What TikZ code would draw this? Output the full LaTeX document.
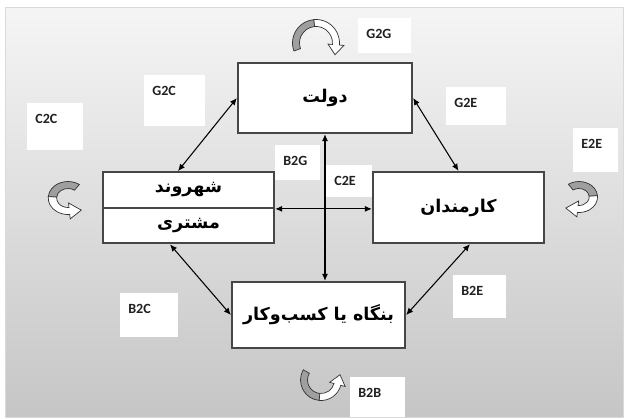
\documentclass[tikz,border=0pt]{standalone}
\usepackage{fontspec}
\usepackage{tikz}
\usetikzlibrary{arrows.meta,calc}
\newfontfamily\arabicfont[Script=Arabic]{DejaVu Sans}
\newfontfamily\tagfont{Carlito}
\TeXXeTstate=1

% curved self-arrow: start, middle, end angle, head direction, radius
\newcommand{\bandarrow}[5]{%
  \filldraw[fill=gray!75, draw=gray!40!black, line width=0.4pt]
    ({#1}:{#5+3.5}) arc[start angle=#1, end angle=#2, radius=#5+3.5]
    -- ({#2}:{#5-3.5}) arc[start angle=#2, end angle=#1, radius=#5-3.5] -- cycle;
  \filldraw[fill=white, draw=gray!40!black, line width=0.4pt]
    ({#2}:{#5+3.5}) arc[start angle=#2, end angle=#3, radius=#5+3.5]
    -- ({#3}:{#5+8}) -- ($({#3}:{#5})+({#4}:10)$) -- ({#3}:{#5-8}) -- ({#3}:{#5-3.5})
    arc[start angle=#3, end angle=#2, radius=#5-3.5] -- cycle;
}

\begin{document}
\begin{tikzpicture}[x=0.02cm, y=-0.02cm,
  entity/.style={draw=gray!55!black, line width=1.3pt, fill=white, inner sep=0pt,
    font=\arabicfont\bfseries\fontsize{10}{12}\selectfont},
  tag/.style={fill=white, anchor=north west, inner xsep=0.16cm, inner ysep=0pt,
    text height=0.4cm, align=left, text=gray!25!black,
    font=\tagfont\bfseries\fontsize{8}{9}\selectfont},
  link/.style={{Latex[length=4pt,width=3.5pt]}-{Latex[length=4pt,width=3.5pt]}, line width=0.6pt}]

  \useasboundingbox (0,0) rectangle (626,419);
  \shade[top color=gray!8, bottom color=gray!45, draw=gray!30] (5,7) rectangle (623,417);

  % actors
  \node[entity, minimum width=3.48cm, minimum height=1.4cm] (gov) at (325,98) {\beginR دولت\endR};
  \node[entity, minimum width=3.42cm, minimum height=0.71cm] (cit1) at (188.5,190) {\beginR شهروند\endR};
  \node[entity, minimum width=3.42cm, minimum height=0.71cm] (cit2) at (188.5,225.5) {\beginR مشتری\endR};
  \node[entity, minimum width=3.42cm, minimum height=1.42cm] (emp) at (458.5,207.5) {\beginR کارمندان\endR};
  \node[entity, minimum width=3.46cm, minimum height=1.32cm] (bus) at (318.5,315) {\beginR بنگاه یا کسب‌وکار\endR};

  % labels
  \node[tag, text width=0.8cm, text depth=0.54cm] (c2c) at (27,103) {C2C};
  \node[tag, text width=0.9cm, text depth=0.62cm] (g2c) at (144,75) {G2C};
  \node[tag, text width=0.58cm, text depth=0.3cm] (b2g) at (275,145) {B2G};
  \node[tag, text width=0.6cm, text depth=0.24cm] (c2e) at (326,165) {C2E};
  \node[tag, text width=0.74cm, text depth=0.3cm] (g2g) at (358,18) {G2G};
  \node[tag, text width=0.88cm, text depth=0.36cm] (g2e) at (446,87) {G2E};
  \node[tag, text width=0.58cm, text depth=0.48cm] (e2e) at (573,128) {E2E};
  \node[tag, text width=0.84cm, text depth=0.48cm] (b2c) at (120,293) {B2C};
  \node[tag, text width=0.74cm, text depth=0.46cm] (b2e) at (453,275) {B2E};
  \node[tag, text width=0.78cm, text depth=0.4cm] (b2b) at (350,377) {B2B};

  % links
  \draw[link] (gov.west) -- ([xshift=-0.21cm]cit1.north);
  \draw[link] (gov.east) -- (emp.north);
  \draw[link] (gov.south) -- (gov.south |- bus.north);
  \draw[link] (cit1.south east) -- (cit1.south east -| emp.west);
  \draw[link] ([xshift=-0.37cm]cit2.south) -- (bus.west);
  \draw[link] ([xshift=0.23cm]emp.south) -- (bus.east);

  % self arrows
  \begin{scope}[shift={(316,43)}, yscale=-1]
    \bandarrow{200}{95}{-5}{-95}{20}
  \end{scope}
  \begin{scope}[shift={(321,380)}, yscale=-1]
    \bandarrow{150}{265}{345}{75}{17}
  \end{scope}
  \begin{scope}[shift={(68,198)}, yscale=-1, xscale=1.2]
    \bandarrow{55}{175}{275}{5}{13}
  \end{scope}
  \begin{scope}[shift={(579,197)}, yscale=-1, xscale=1.2]
    \bandarrow{125}{5}{-95}{175}{12}
  \end{scope}
\end{tikzpicture}
\end{document}
